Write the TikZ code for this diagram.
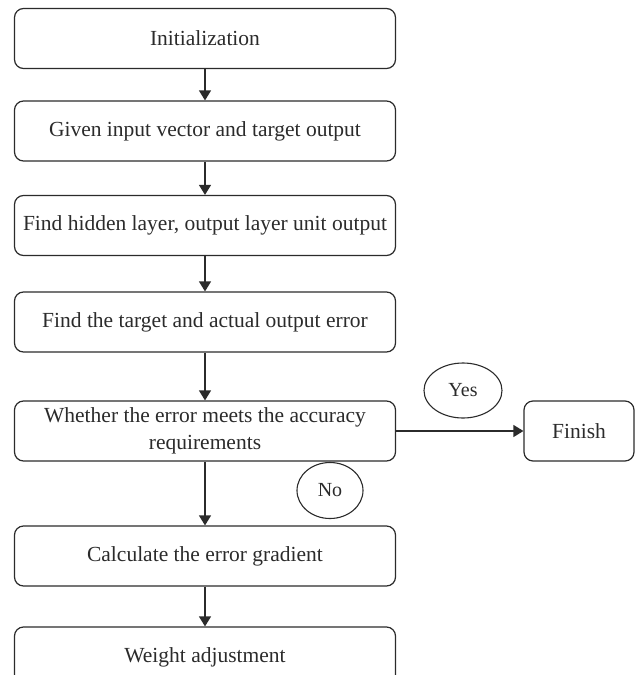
\documentclass[tikz,border=0pt]{standalone}
\usepackage{fontspec}
\setmainfont{Liberation Serif}
\usepackage{tikz}
\usetikzlibrary{positioning,arrows.meta,shapes.geometric}
\definecolor{ink}{HTML}{2B2B2B}
\begin{document}
\begin{tikzpicture}[
  x=1pt,y=-1pt,
  box/.style={draw=ink,rounded corners=9pt,line width=1.2pt,minimum width=381pt,minimum height=60pt,
    align=center,text=ink,font=\fontsize{21.5}{26.5}\selectfont,inner sep=0pt},
  endbox/.style={box,minimum width=110pt},
  answer/.style={ellipse,draw=ink,line width=1.1pt,text=ink,font=\fontsize{20}{24}\selectfont,inner sep=0pt},
  edge/.style={-{Triangle[length=10pt,width=12pt]},draw=ink,line width=1.2pt}
]
\useasboundingbox (0,0) rectangle (637,675);
\clip (0,0) rectangle (637,675);
\node[box] (init) at (205,38.5) {Initialization};
\node[box] (given) at (205,131) {Given input vector and target output};
\node[box] (hidden) at (205,225.5) {Find hidden layer, output layer unit output};
\node[box] (err) at (205,322) {Find the target and actual output error};
\node[box] (check) at (205,431) {Whether the error meets the accuracy\\requirements};
\node[endbox] (finish) at (579,431) {Finish};
\node[box] (grad) at (205,556) {Calculate the error gradient};
\node[box] (adjust) at (205,657) {Weight adjustment};
\node[answer,minimum width=78pt,minimum height=55pt] (yes) at (463,390.5) {Yes};
\node[answer,minimum width=66pt,minimum height=56pt] (no) at (330,490.5) {No};
\foreach \a/\b in {init/given,given/hidden,hidden/err,err/check,check/grad,grad/adjust}
  \draw[edge] (\a) -- (\b);
\draw[edge] (check) -- (finish);
\end{tikzpicture}
\end{document}
